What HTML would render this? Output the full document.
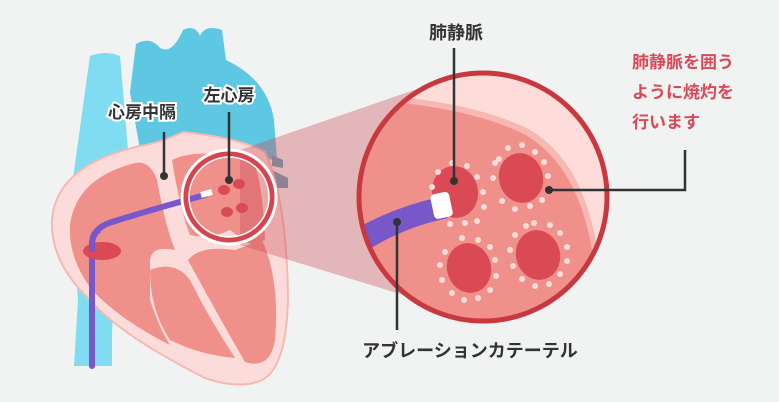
<!DOCTYPE html>
<html><head><meta charset="utf-8"><style>
html,body{margin:0;padding:0;background:#f1f2f2;}
svg{display:block}
text{font-family:"Liberation Sans","Noto Sans CJK JP",sans-serif;}
</style></head><body>
<svg width="779" height="402" viewBox="0 0 779 402" xmlns="http://www.w3.org/2000/svg">
<rect width="779" height="402" fill="#f1f2f2"/>
<path d="M90,56 Q105,50 120,56 L128,150 L112,330 L112,366 L74,366 L78,300 L70,200 Z" fill="#80dcf0"/>
<path d="M136,44 Q150,36 160,48 Q172,55 183,30 Q195,24 200,36 Q205,24 222,30 L226,60 Q268,80 274,120 L277,160 L140,150 L130,92 Z" fill="#5ec8e3"/>
<path d="M272,170 L288,178 L288,188 L272,188Z M272,155 L283,160 L283,168 L272,166Z" fill="#6fa4b6"/>
<path d="M52,220 Q56,165 140,146 Q160,143 183,132 Q240,138 265,152 Q287,200 288,300 Q286,368 262,380 Q240,390 205,378 Q120,335 90,300 Q50,262 52,220 Z" fill="#fcdcda" stroke="#f7b8b2" stroke-width="2"/>
<path d="M70,225 Q76,178 135,163 Q150,160 157,180 Q165,225 175,250 Q150,245 150,262 L150,300 Q160,330 170,345 Q120,320 92,290 Q68,258 70,225 Z" fill="#f0908a"/>
<path d="M172,160 Q195,148 250,158 Q262,170 265,240 L252,245 Q240,238 230,230 Q210,240 190,235 Q180,210 172,160Z" fill="#f0908a"/>
<path d="M188,260 Q200,245 235,250 L262,240 Q280,280 275,340 Q270,370 245,362 Q215,310 188,260Z" fill="#f0908a"/>
<path d="M150,270 Q175,260 190,280 Q210,320 235,358 Q200,355 170,340 Q150,310 150,270Z" fill="#f0908a"/>
<path d="M92,366 L92,245 Q92,228 112,222 Q150,210 205,195" fill="none" stroke="#7857c9" stroke-width="6" stroke-linecap="round"/>
<ellipse cx="102" cy="251" rx="19" ry="9" fill="#d94a55"/>
<path d="M92,252 L92,245 Q92,232 100,230" fill="none" stroke="#7857c9" stroke-width="6"/>
<path d="M201,195 L212,192" stroke="#fff" stroke-width="6"/>
<path d="M240,150 L420,88 L420,300 L240,245 Z" fill="#c8494f" opacity="0.35"/>
<circle cx="229" cy="197" r="47" fill="none" stroke="#fff" stroke-width="3"/>
<circle cx="229" cy="197" r="43" fill="none" stroke="#d44550" stroke-width="5"/>
<circle cx="229" cy="197" r="40" fill="none" stroke="#fff" stroke-width="1.5"/>
<ellipse cx="224" cy="190" rx="6" ry="5" fill="#d94a55"/>
<ellipse cx="239" cy="184" rx="6" ry="5" fill="#d94a55"/>
<ellipse cx="227" cy="212" rx="6" ry="5" fill="#d94a55"/>
<ellipse cx="242" cy="208" rx="6" ry="5" fill="#d94a55"/>
<clipPath id="c"><circle cx="483" cy="197" r="124"/></clipPath>
<circle cx="483" cy="197" r="124" fill="#f0908a"/>
<g clip-path="url(#c)">
<path d="M360,60 L620,60 L620,330 L602,330 Q605,175 530,130 Q470,100 360,94Z" fill="#fddcda"/>
<path d="M360,94 Q470,100 530,130 Q605,175 602,330 L597,330 Q600,180 526,135 Q468,106 360,99Z" fill="#f7b8b2"/>
<path d="M330,245 Q380,210 440,197 L448,218 Q400,228 360,255Z" fill="#7857c9"/>
</g>
<circle cx="483" cy="197" r="124" fill="none" stroke="#c8393f" stroke-width="5"/>
<g fill="#d94a55">
<ellipse cx="455" cy="192" rx="23" ry="26" transform="rotate(-10 455 192)"/>
<ellipse cx="521" cy="178" rx="22" ry="25" transform="rotate(-15 521 178)"/>
<ellipse cx="469" cy="268" rx="22" ry="25" transform="rotate(-15 469 268)"/>
<ellipse cx="538" cy="255" rx="22" ry="25" transform="rotate(-15 538 255)"/>
</g>
<g fill="#fddcda">
<circle cx="432" cy="187" r="3"/><circle cx="438" cy="172" r="3"/><circle cx="452" cy="163" r="3"/><circle cx="467" cy="166" r="3"/><circle cx="477" cy="177" r="3"/><circle cx="483" cy="192" r="3"/><circle cx="484" cy="207" r="3"/><circle cx="477" cy="221" r="3"/><circle cx="465" cy="223" r="3"/><circle cx="450" cy="224" r="3"/>
<circle cx="493" cy="178" r="3"/><circle cx="495" cy="163" r="3"/><circle cx="499" cy="159" r="3"/><circle cx="508" cy="148" r="3"/><circle cx="522" cy="145" r="3"/><circle cx="535" cy="152" r="3"/><circle cx="544" cy="162" r="3"/><circle cx="548" cy="176" r="3"/><circle cx="542" cy="200" r="3"/><circle cx="530" cy="206" r="3"/><circle cx="515" cy="209" r="3"/><circle cx="502" cy="201" r="3"/>
<circle cx="445" cy="252" r="3"/><circle cx="440" cy="265" r="3"/><circle cx="442" cy="280" r="3"/><circle cx="452" cy="293" r="3"/><circle cx="464" cy="300" r="3"/><circle cx="478" cy="298" r="3"/><circle cx="490" cy="290" r="3"/><circle cx="496" cy="276" r="3"/><circle cx="495" cy="260" r="3"/><circle cx="490" cy="247" r="3"/><circle cx="478" cy="240" r="3"/><circle cx="462" cy="238" r="3"/>
<circle cx="515" cy="235" r="3"/><circle cx="510" cy="250" r="3"/><circle cx="513" cy="266" r="3"/><circle cx="522" cy="279" r="3"/><circle cx="535" cy="286" r="3"/><circle cx="549" cy="284" r="3"/><circle cx="560" cy="274" r="3"/><circle cx="567" cy="261" r="3"/><circle cx="567" cy="247" r="3"/><circle cx="560" cy="233" r="3"/><circle cx="550" cy="225" r="3"/><circle cx="534" cy="223" r="3"/><circle cx="526" cy="226" r="3"/>
</g>
<rect x="432" y="193" width="19" height="25" rx="4" fill="#fff" transform="rotate(-12 441 205)"/>
<g stroke="#333" stroke-width="2.5" fill="none">
<path d="M164,132 L164,175"/><path d="M229,112 L229,180"/>
<path d="M454,48 L454,180"/><path d="M549,190 L685,190 L685,150"/>
<path d="M397,223 L397,330"/>
</g>
<g fill="#333">
<circle cx="164" cy="176" r="4"/><circle cx="229" cy="180" r="4"/><circle cx="454" cy="181" r="4"/><circle cx="549" cy="190" r="4"/><circle cx="397" cy="222" r="4"/>
</g>
<g font-weight="bold" font-size="17" fill="#333" stroke="#fff" stroke-width="4" paint-order="stroke" text-anchor="middle">
<text x="142" y="118">心房中隔</text>
<text x="229" y="101">左心房</text>
</g>
<g font-weight="bold" font-size="18" fill="#333" text-anchor="middle">
<text x="456" y="39">肺静脈</text>
<text x="470" y="357">アブレーションカテーテル</text>
</g>
<g font-weight="bold" font-size="17" fill="#d94a58">
<text x="632" y="68">肺静脈を囲う</text>
<text x="632" y="98">ように焼灼を</text>
<text x="632" y="128">行います</text>
</g>
</svg>
</body></html>
